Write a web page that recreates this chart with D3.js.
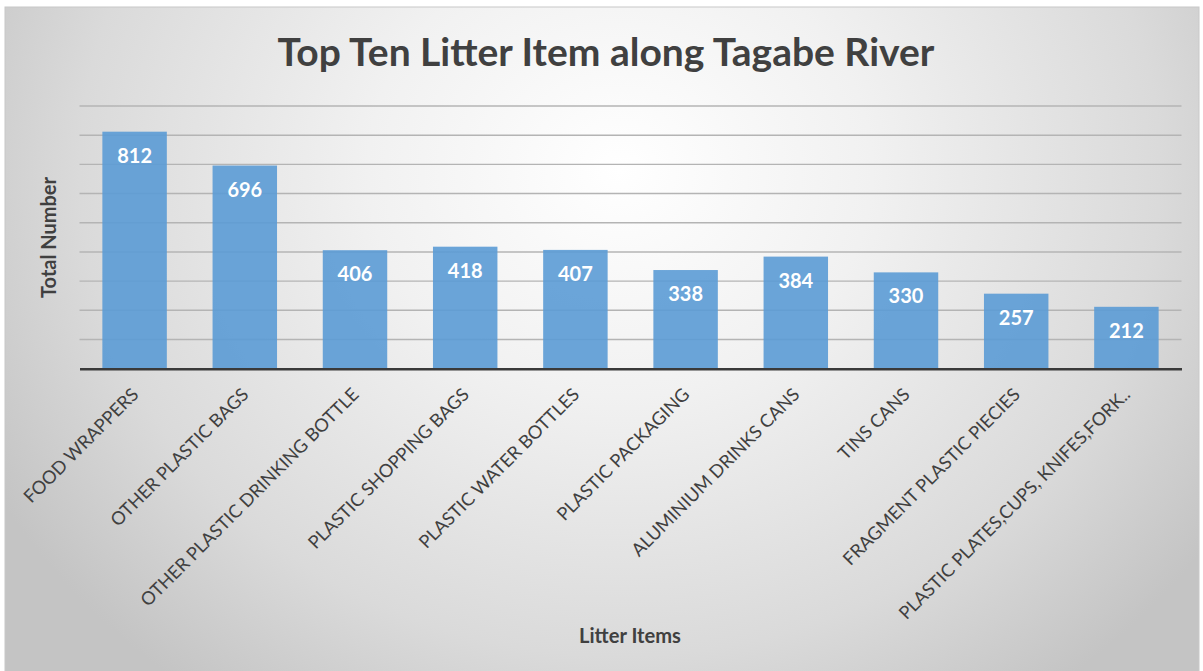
<!DOCTYPE html>
<html>
<head>
<meta charset="utf-8">
<script src="https://cdn.jsdelivr.net/npm/d3@7"></script>
<style>
  html, body { margin: 0; padding: 0; background: #ffffff; }
  svg { display: block; }
  text { font-family: Lato, "Open Sans", sans-serif; }
</style>
</head>
<body>
<svg id="chart" width="1203" height="671"></svg>
<script>
const categories = [
  "FOOD WRAPPERS",
  "OTHER PLASTIC BAGS",
  "OTHER PLASTIC DRINKING BOTTLE",
  "PLASTIC SHOPPING BAGS",
  "PLASTIC WATER BOTTLES",
  "PLASTIC PACKAGING",
  "ALUMINIUM DRINKS CANS",
  "TINS CANS",
  "FRAGMENT PLASTIC PIECIES",
  "PLASTIC PLATES,CUPS, KNIFES,FORK.."
];
const values = [812, 696, 406, 418, 407, 338, 384, 330, 257, 212];
const yTicks = [0, 100, 200, 300, 400, 500, 600, 700, 800, 900];
const titleText = "Top Ten Litter Item along Tagabe River";
const yTitle = "Total Number";
const xTitle = "Litter Items";

const W = 1203, H = 671;
const margin = { left: 79.5, right: 1181.5, top: 106, bottom: 368.7 };

const svg = d3.select("#chart");
const defs = svg.append("defs");
const grad = defs.append("radialGradient")
  .attr("id", "bg").attr("gradientUnits", "userSpaceOnUse")
  .attr("cx", 620).attr("cy", 170).attr("r", 720)
  .attr("gradientTransform", "translate(620,170) scale(1,0.9) translate(-620,-170)");
grad.append("stop").attr("offset", "0%").attr("stop-color", "#ffffff");
grad.append("stop").attr("offset", "35%").attr("stop-color", "#f1f1f1");
grad.append("stop").attr("offset", "75%").attr("stop-color", "#dadada");
grad.append("stop").attr("offset", "100%").attr("stop-color", "#c4c4c4");

svg.append("rect").attr("x", 5).attr("y", 7).attr("width", 1194).attr("height", 670)
  .attr("fill", "url(#bg)").attr("stroke", "#c8c8c8").attr("stroke-width", 1);

const x = d3.scaleBand().domain(categories)
  .range([margin.left, margin.right]).paddingInner(0.415).paddingOuter(0.2075);
const y = d3.scaleLinear().domain([0, 900]).range([margin.bottom, margin.top]);

// gridlines
svg.append("g").selectAll("line").data(yTicks.filter(d => d > 0)).join("line")
  .attr("x1", margin.left).attr("x2", margin.right)
  .attr("y1", d => y(d)).attr("y2", d => y(d))
  .attr("stroke", "#b4b4b4").attr("stroke-width", 1.4);

// bars
svg.append("g").selectAll("rect").data(values).join("rect")
  .attr("x", (d, i) => x(categories[i]))
  .attr("width", x.bandwidth())
  .attr("y", d => y(d))
  .attr("height", d => y(0) - y(d))
  .attr("fill", "#5b9bd5").attr("fill-opacity", 0.9);

// baseline axis
const xAxis = d3.axisBottom(x).tickSize(0).tickFormat("");
const gx = svg.append("g").attr("transform", `translate(0,${y(0)})`).call(xAxis);
gx.select(".domain").attr("stroke", "#3a3a3a").attr("stroke-width", 2.6);

function fitSize(text, weight, target) {
  const t = svg.append("text").attr("font-size", 100).attr("font-weight", weight).text(text);
  const w = t.node().getComputedTextLength();
  t.remove();
  return 100 * target / w;
}

// tick labels
const tickSize = fitSize("OTHER PLASTIC DRINKING BOTTLE", "normal", 300);
svg.append("g").selectAll("text").data(categories).join("text")
  .attr("transform", d => `translate(${x(d) + x.bandwidth() / 2 + 5},${y(0) + 27}) rotate(-45)`)
  .attr("text-anchor", "end")
  .attr("font-size", tickSize)
  .attr("fill", "#404040")
  .text(d => d);

// value labels
svg.append("g").selectAll("text").data(values).join("text")
  .attr("x", (d, i) => x(categories[i]) + x.bandwidth() / 2)
  .attr("y", d => y(d) + 31)
  .attr("text-anchor", "middle")
  .attr("font-size", 20).attr("font-weight", "bold")
  .attr("fill", "#ffffff")
  .text(d => d);

// title
svg.append("text").attr("x", 606).attr("y", 66).attr("text-anchor", "middle")
  .attr("font-size", fitSize(titleText, "bold", 657)).attr("font-weight", "bold")
  .attr("fill", "#404040").text(titleText);

// axis titles
svg.append("text").attr("transform", `translate(56,237.5) rotate(-90)`)
  .attr("text-anchor", "middle")
  .attr("font-size", fitSize(yTitle, "bold", 121)).attr("font-weight", "bold")
  .attr("fill", "#404040").text(yTitle);

svg.append("text").attr("x", 630).attr("y", 643).attr("text-anchor", "middle")
  .attr("font-size", fitSize(xTitle, "bold", 102)).attr("font-weight", "bold")
  .attr("fill", "#404040").text(xTitle);
</script>
</body>
</html>
